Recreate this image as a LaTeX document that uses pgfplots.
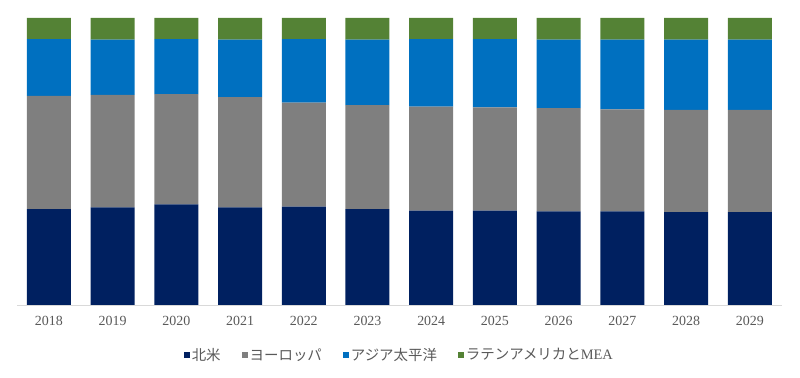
\documentclass[border=0pt]{standalone}
\usepackage{fontspec}
\setmainfont{Liberation Serif}
\newfontfamily\jp{Noto Sans CJK JP}
\usepackage{pgfplots}
\usepackage{pgfplotstable}
\pgfplotsset{compat=1.18}
\definecolor{cNA}{HTML}{002060}
\definecolor{cEU}{HTML}{7F7F7F}
\definecolor{cAP}{HTML}{0070C0}
\definecolor{cLA}{HTML}{548235}
\definecolor{ctext}{HTML}{595959}
\definecolor{caxis}{HTML}{D9D9D9}
\pgfplotstableread{
x NA EU AP LA
0 33.4 39.5 19.7 7.4
1 34.0 39.2 19.3 7.5
2 35.1 38.4 19.1 7.4
3 34.0 38.4 20.1 7.5
4 34.3 36.2 22.1 7.4
5 33.4 36.2 22.9 7.5
6 32.9 36.2 23.5 7.4
7 32.9 36.0 23.7 7.4
8 32.6 36.0 23.9 7.5
9 32.6 35.6 24.3 7.5
10 32.4 35.6 24.5 7.5
11 32.4 35.6 24.5 7.5
}\datatable
\begin{document}
\begin{tikzpicture}
\useasboundingbox (0,0) rectangle (800bp,378bp);
\begin{axis}[
  at={(17bp,73bp)}, anchor=south west,
  scale only axis, width=764.7bp, height=287bp,
  ybar stacked, bar width=44bp,
  xmin=-0.5, xmax=11.5, ymin=0, ymax=100,
  xtick={0,...,11},
  xticklabels={2018,2019,2020,2021,2022,2023,2024,2025,2026,2027,2028,2029},
  major tick length=0pt,
  axis x line*=bottom,
  hide y axis,
  x axis line style={caxis, line width=1bp},
  xticklabel style={font=\fontsize{14}{14}\selectfont, text=ctext, yshift=-8bp},
  /pgf/number format/assume math mode=true,
  legend columns=4,
  legend style={draw=none, fill=none, at={(0.5,-0.174)}, anchor=center,
    font=\fontsize{14.5}{14.5}\selectfont, text=ctext,
    /tikz/every even column/.append style={column sep=19bp}},
  legend image code/.code={\fill[#1] (0bp,-3bp) rectangle (6bp,3bp);},
]
\addplot[fill=cNA, draw=none] table[x=x, y=NA] {\datatable};
\addplot[fill=cEU, draw=none] table[x=x, y=EU] {\datatable};
\addplot[fill=cAP, draw=none] table[x=x, y=AP] {\datatable};
\addplot[fill=cLA, draw=none] table[x=x, y=LA] {\datatable};
\legend{{\jp 北米},{\jp ヨーロッパ},{\jp アジア太平洋},{\jp ラテンアメリカと}MEA}
\end{axis}
\end{tikzpicture}
\end{document}
